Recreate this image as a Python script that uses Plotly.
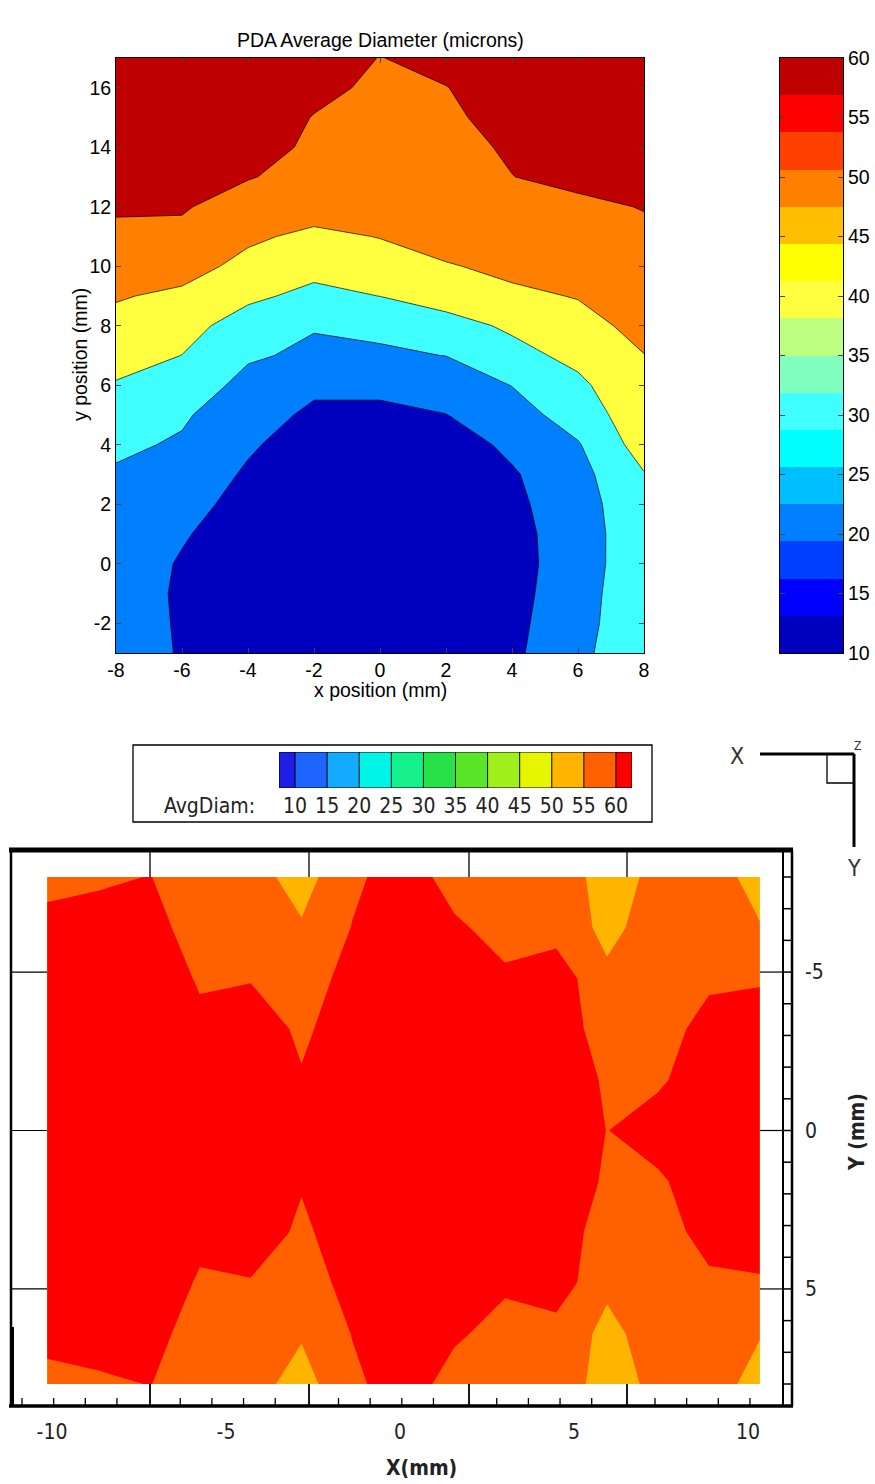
import plotly.graph_objects as go

W, H = 875, 1484


def px(x):
    return x / W


def py(y):
    return 1 - y / H


# ---------------- Top panel: PDA average diameter (microns) ----------------
top_x = [-8, -6, -4, -2, 0, 2, 4, 6, 8]
top_y = [-3, -2, -1, 0, 1, 2, 3, 4, 5, 6, 7, 8, 9, 10, 11, 12, 13, 14, 15, 16, 17]
top_z = [
    [25.0, 19.25, 14.5, 12.0, 11.0, 11.5, 17.9, 28.4, 35.0],
    [25.0, 18.94, 14.0, 12.0, 11.0, 11.5, 17.2, 27.35, 35.5],
    [25.0, 18.67, 14.0, 12.0, 11.0, 11.5, 16.5, 26.55, 36.0],
    [25.5, 19.14, 14.5, 12.0, 11.0, 11.5, 16.4, 25.3, 36.5],
    [26.5, 20.86, 15.1, 12.5, 11.5, 12.0, 17.0, 24.9, 37.0],
    [27.5, 23.5, 16.6, 13.0, 12.0, 13.0, 18.0, 25.3, 38.0],
    [29.0, 26.3, 18.7, 14.0, 13.0, 14.0, 19.0, 26.8, 39.5],
    [31.6, 29.0, 21.3, 15.0, 15.0, 15.3, 22.0, 29.24, 44.5],
    [35.2, 31.1, 24.5, 18.0, 18.0, 19.8, 26.0, 34.3, 46.5],
    [39.2, 35.0, 27.5, 22.0, 22.0, 24.5, 30.2, 38.0, 48.0],
    [44.0, 39.9, 31.0, 28.5, 29.0, 30.1, 37.0, 42.5, 49.8],
    [47.5, 43.5, 35.5, 30.5, 31.5, 36.5, 41.5, 46.5, 53.0],
    [50.7, 48.3, 41.9, 37.5, 40.1, 44.0, 48.0, 50.5, 55.0],
    [53.5, 53.4, 47.5, 43.0, 46.0, 49.2, 52.5, 54.0, 57.0],
    [57.2, 57.5, 51.5, 48.0, 50.3, 54.5, 56.0, 57.0, 58.5],
    [61.5, 61.0, 55.0, 54.0, 53.0, 56.0, 58.5, 58.5, 60.3],
    [64.0, 64.0, 60.6, 56.5, 54.5, 57.0, 59.9, 61.8, 62.0],
    [66.0, 67.0, 64.0, 58.3, 56.0, 58.0, 60.8, 63.5, 63.0],
    [67.0, 68.0, 66.0, 59.6, 57.0, 59.0, 62.0, 65.0, 64.0],
    [66.0, 68.0, 68.0, 62.7, 58.0, 59.8, 64.0, 66.0, 64.0],
    [65.0, 67.0, 69.0, 64.0, 59.8, 62.5, 65.0, 66.0, 64.0],
]
top_levels = [20, 30, 40, 50, 60]
top_fill_colors = ["#0000BF", "#0080FF", "#40FFFF", "#FFFF40", "#FF8000", "#BF0000"]
top_x_ticks = [-8, -6, -4, -2, 0, 2, 4, 6, 8]
top_y_ticks = [-2, 0, 2, 4, 6, 8, 10, 12, 14, 16]

cbar_edges = [10, 13.125, 16.25, 19.375, 22.5, 25.625, 28.75, 31.875, 35,
              38.125, 41.25, 44.375, 47.5, 50.625, 53.75, 56.875, 60]
cbar_colors = ["#0000BF", "#0000FF", "#0040FF", "#0080FF", "#00BFFF", "#00FFFF",
               "#40FFFF", "#80FFBF", "#BFFF80", "#FFFF40", "#FFFF00", "#FFBF00",
               "#FF8000", "#FF4000", "#FF0000", "#BF0000"]
cbar_ticks = [10, 15, 20, 25, 30, 35, 40, 45, 50, 55, 60]

# ---------------- Bottom panel: AvgDiam ----------------
bot_x = [-10.14, -8.68, -7.21, -5.75, -4.29, -2.83, -1.36, 0.1, 1.56, 3.02, 4.49, 5.95, 7.41, 8.88, 10.34]
bot_y = [-8.0, -6.4, -4.8, -3.2, -1.6, 0.0, 1.6, 3.2, 4.8, 6.4, 8.0]
bot_z = [
    [58.0, 58.5, 60.2, 57.0, 57.0, 53.0, 59.0, 62.5, 58.1, 57.5, 57.5, 53.2, 56.0, 57.5, 53.0],
    [62.0, 64.0, 63.0, 56.3, 56.5, 55.5, 60.2, 64.0, 60.74, 58.35, 58.0, 53.8, 57.1, 58.0, 55.3],
    [65.0, 67.0, 65.0, 59.2, 59.5, 57.0, 62.1, 65.0, 64.0, 60.74, 62.9, 55.9, 57.5, 59.0, 59.3],
    [66.0, 67.0, 66.0, 61.8, 64.8, 58.5, 64.6, 66.0, 66.0, 65.0, 63.0, 57.5, 57.5, 62.0, 63.4],
    [66.0, 67.0, 67.0, 66.0, 66.0, 60.67, 66.0, 67.0, 67.0, 66.0, 65.0, 59.0, 59.2, 63.0, 64.0],
    [66.0, 67.0, 67.0, 67.0, 67.0, 66.0, 67.0, 67.0, 67.0, 66.0, 64.0, 59.9, 62.4, 64.0, 64.0],
    [66.0, 67.0, 67.0, 66.0, 66.0, 60.67, 66.0, 67.0, 67.0, 66.0, 65.0, 59.0, 59.2, 63.0, 64.0],
    [66.0, 67.0, 66.0, 61.8, 64.8, 58.5, 64.6, 66.0, 66.0, 65.0, 63.0, 57.5, 57.5, 62.0, 63.4],
    [65.0, 67.0, 65.0, 59.2, 59.5, 57.0, 62.1, 65.0, 64.0, 60.74, 62.9, 55.9, 57.5, 59.0, 59.3],
    [62.0, 64.0, 63.0, 56.3, 56.5, 55.5, 60.2, 64.0, 60.74, 58.35, 58.0, 53.8, 57.1, 58.0, 55.3],
    [58.0, 58.5, 60.2, 57.0, 57.0, 53.0, 59.0, 62.5, 58.1, 57.5, 57.5, 53.2, 56.0, 57.5, 53.0],
]
legend_levels = [10, 15, 20, 25, 30, 35, 40, 45, 50, 55, 60]
legend_colors = ["#1E1EE6", "#1E64FF", "#14AAFF", "#00F5E6", "#14F08C", "#28E146",
                 "#5AE628", "#A0F01E", "#E6F500", "#FFB400", "#FF6000", "#FF0000"]
legend_edges = [7.5, 10, 15, 20, 25, 30, 35, 40, 45, 50, 55, 60, 62.5]
bot_x_ticks = [-10, -5, 0, 5, 10]
bot_y_ticks = [-5, 0, 5]


def step_scale(colors):
    n = len(colors)
    cs = []
    for i, c in enumerate(colors):
        cs.append([i / n, c])
        cs.append([(i + 1) / n, c])
    return cs


def labels(vals):
    return [str(v) for v in vals]  # plain hyphen-minus like the original


SANS = "Liberation Sans, Arial, Helvetica, sans-serif"
NARROW = "Liberation Sans Narrow, Arial Narrow, DejaVu Sans Condensed, sans-serif"

fig = go.Figure()

# top contour
fig.add_trace(go.Contour(
    x=top_x, y=top_y, z=top_z, xaxis="x", yaxis="y",
    zmin=10, zmax=70, colorscale=step_scale(top_fill_colors),
    contours=dict(start=top_levels[0], end=top_levels[-1], size=10,
                  coloring="fill", showlines=True),
    line=dict(color="black", width=0.7, smoothing=0),
    showscale=False, hoverinfo="skip",
))

# top colorbar drawn as a heatmap
fig.add_trace(go.Heatmap(
    x=[0, 1], y=cbar_edges, z=[[i] for i in range(len(cbar_colors))],
    xaxis="x3", yaxis="y3", zmin=-0.5, zmax=len(cbar_colors) - 0.5,
    colorscale=step_scale(cbar_colors), showscale=False, hoverinfo="skip",
))

# bottom contour
fig.add_trace(go.Contour(
    x=bot_x, y=bot_y, z=bot_z, xaxis="x2", yaxis="y2",
    zmin=5, zmax=65, colorscale=step_scale(legend_colors),
    contours=dict(start=legend_levels[0], end=legend_levels[-1], size=5,
                  coloring="fill", showlines=False),
    line=dict(width=0, smoothing=0),
    showscale=False, hoverinfo="skip",
))

# bottom legend swatches
fig.add_trace(go.Heatmap(
    x=legend_edges, y=[0, 1], z=[list(range(len(legend_colors)))],
    xaxis="x4", yaxis="y4", zmin=-0.5, zmax=len(legend_colors) - 0.5,
    colorscale=step_scale(legend_colors), showscale=False, hoverinfo="skip",
))

# bottom axis mapping (pixels of the frame and scale)
x0_px, x_scale = 400.0, 34.8          # x = 0 at px 400, 34.8 px per mm
by0_px, by1_px = 877, 1384            # y = -8 .. 8
bx0_px, bx1_px = 47, 760              # data edges
fx0, fx1, fy0, fy1 = 10, 790, 847, 1405
sy = (by1_px - by0_px) / 16.0
x2_range = [(fx0 - x0_px) / x_scale, (fx1 - x0_px) / x_scale]
y2_range = [8 + (fy1 - by1_px) / sy, -8 - (by0_px - fy0) / sy]

axis_common = dict(showgrid=False, zeroline=False)
top_font = dict(family=SANS, size=19.5, color="black")
nar_font = dict(family=NARROW, size=21, color="#222222")

fig.update_layout(
    width=W, height=H, autosize=False,
    margin=dict(l=0, r=0, t=0, b=0, pad=0, autoexpand=False),
    paper_bgcolor="white", plot_bgcolor="white",
    showlegend=False,
    xaxis=dict(domain=[px(116), px(644)], range=[-8, 8], anchor="y",
               tickvals=top_x_ticks, ticktext=labels(top_x_ticks), ticks="inside", ticklen=5,
               mirror="ticks", showline=True, linecolor="black", linewidth=1,
               tickfont=top_font, **axis_common),
    yaxis=dict(domain=[py(653), py(58)], range=[-3, 17], anchor="x",
               tickvals=top_y_ticks, ticktext=labels(top_y_ticks), ticks="inside", ticklen=5,
               mirror="ticks", showline=True, linecolor="black", linewidth=1,
               tickfont=top_font, **axis_common),
    xaxis3=dict(domain=[px(780), px(843)], range=[0, 1], anchor="y3",
                showticklabels=False, ticks="", showline=True, mirror=True,
                linecolor="black", linewidth=1, **axis_common),
    yaxis3=dict(domain=[py(653), py(58)], range=[10, 60], anchor="x3", side="right",
                tickvals=cbar_ticks, ticktext=labels(cbar_ticks), ticks="inside", ticklen=5,
                mirror="ticks", showline=True, linecolor="black", linewidth=1,
                tickfont=top_font, **axis_common),
    xaxis2=dict(domain=[px(fx0), px(fx1)], range=x2_range, anchor="y2",
                tickvals=bot_x_ticks, ticktext=labels(bot_x_ticks), ticks="", showline=False,
                ticklabelstandoff=12, tickfont=nar_font, **axis_common),
    yaxis2=dict(domain=[py(fy1), py(fy0)], range=y2_range, anchor="x2", side="right",
                tickvals=bot_y_ticks, ticktext=labels(bot_y_ticks), ticks="", showline=False,
                ticklabelstandoff=14, tickfont=nar_font, **axis_common),
    xaxis4=dict(domain=[px(279), px(632)], range=[7.5, 62.5], anchor="y4",
                tickvals=legend_levels, ticktext=labels(legend_levels), ticks="", showline=False,
                ticklabelstandoff=3, tickfont=nar_font, **axis_common),
    yaxis4=dict(domain=[py(788), py(752)], range=[0, 1], anchor="x4",
                visible=False, **axis_common),
)

shapes = []


def pline(x0, y0, x1, y1, w=1.0, color="black"):
    shapes.append(dict(type="line", xref="paper", yref="paper",
                       x0=px(x0), y0=py(y0), x1=px(x1), y1=py(y1),
                       line=dict(color=color, width=w)))


# legend box and swatch outlines
shapes.append(dict(type="rect", xref="paper", yref="paper",
                   x0=px(133), y0=py(822), x1=px(652), y1=py(745),
                   line=dict(color="black", width=1.3)))
shapes.append(dict(type="rect", xref="x4", yref="y4", x0=legend_edges[0], x1=legend_edges[-1],
                   y0=0, y1=1, line=dict(color="black", width=1)))
for e in legend_edges[1:-1]:
    shapes.append(dict(type="line", xref="x4", yref="y4", x0=e, x1=e, y0=0, y1=1,
                       line=dict(color="black", width=1)))

# axis triad
pline(760, 754, 854, 754, 3)
shapes.append(dict(type="rect", xref="paper", yref="paper",
                   x0=px(827), y0=py(783), x1=px(854), y1=py(754),
                   line=dict(color="black", width=1.3)))
pline(854, 754, 854, 847, 3)

# bottom frame
pline(9, 850, 793, 850, 5)
pline(11, 848, 11, 1407, 2.5)
pline(12, 1327, 12, 1407, 4)
pline(9, 1406, 793, 1406, 3.5)
pline(783, 850, 783, 1406, 2)
pline(792, 850, 792, 1406, 2.5)
for yv in range(-8, 9):
    shapes.append(dict(type="line", xref="paper", yref="y2", x0=px(783), x1=px(792),
                       y0=yv, y1=yv, line=dict(color="black", width=1.5)))
for yv in bot_y_ticks:
    shapes.append(dict(type="line", xref="paper", yref="y2", x0=px(11), x1=px(bx0_px),
                       y0=yv, y1=yv, line=dict(color="black", width=1.2)))
    shapes.append(dict(type="line", xref="paper", yref="y2", x0=px(bx1_px), x1=px(783),
                       y0=yv, y1=yv, line=dict(color="black", width=1.2)))
long_tick_px = [150, 309, 469, 627]
for xv in long_tick_px:
    pline(xv, 850, xv, by0_px, 1.3)
    pline(xv, by1_px, xv, 1406, 1.8)
minor_px = [22 + 31.65 * k for k in range(24)]
for xv in minor_px:
    if min(abs(xv - L) for L in long_tick_px) > 5:
        pline(xv, 1398, xv, 1406, 1.3)

annotations = [
    dict(text="PDA Average Diameter (microns)", x=px(380), y=py(40), font=top_font),
    dict(text="x position (mm)", x=px(380), y=py(690), font=top_font),
    dict(text="y position (mm)", x=px(80), y=py(355), textangle=-90, font=top_font),
    dict(text="AvgDiam:", x=px(209), y=py(806), font=nar_font),
    dict(text="X", x=px(737), y=py(756), font=dict(family=NARROW, size=23, color="#333333")),
    dict(text="Y", x=px(854), y=py(868), font=dict(family=NARROW, size=23, color="#333333")),
    dict(text="Z", x=px(857), y=py(746), font=dict(family=NARROW, size=12, color="#333333")),
    dict(text="<b>X(mm)</b>", x=px(421), y=py(1468), font=dict(family=NARROW, size=21, color="#222222")),
    dict(text="<b>Y (mm)</b>", x=px(857), y=py(1132), textangle=-90,
         font=dict(family=NARROW, size=21, color="#222222")),
]
for a in annotations:
    a.update(xref="paper", yref="paper", showarrow=False, xanchor="center", yanchor="middle")

fig.update_layout(shapes=shapes, annotations=annotations)
fig.write_html("out.html")
